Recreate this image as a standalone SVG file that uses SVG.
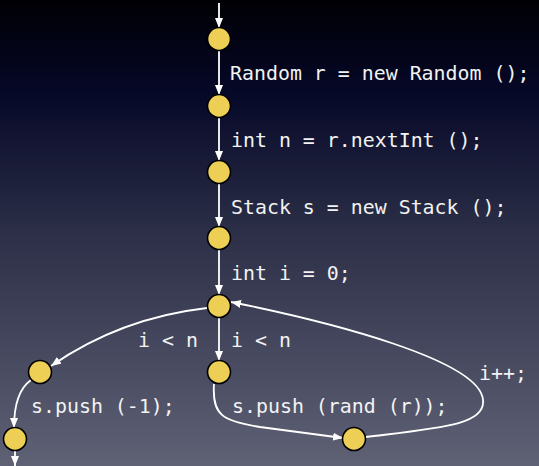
<svg xmlns="http://www.w3.org/2000/svg" width="539" height="466" viewBox="0 0 539 466">
<defs>
<linearGradient id="bg" x1="0" y1="0" x2="0" y2="1">
<stop offset="0" stop-color="#000004"/>
<stop offset="0.2" stop-color="#060828"/>
<stop offset="0.5" stop-color="#2c2f47"/>
<stop offset="1" stop-color="#5f6175"/>
</linearGradient>
<marker id="ah" markerUnits="userSpaceOnUse" markerWidth="10" markerHeight="8" refX="10" refY="4" orient="auto">
<path d="M0,0 L10,4 L0,8 z" fill="#ffffff"/>
</marker>
<style>
.n{fill:#edcf55;stroke:#000;stroke-width:1.6}
.e{fill:none;stroke:#fff;stroke-width:1.8;marker-end:url(#ah)}
.t{font-family:"DejaVu Sans Mono","Liberation Mono",monospace;font-size:19.9px;fill:#f2f2f2}
</style>
</defs>
<rect width="539" height="466" fill="url(#bg)"/>
<g id="connectors">
<path class="e" d="M219,3 L219,28"/>
<path class="e" d="M219,50 L219,95"/>
<path class="e" d="M219,117 L219,161"/>
<path class="e" d="M219,183 L219,227"/>
<path class="e" d="M219,249 L219,295"/>
<path class="e" d="M219,317 L219,361"/>
<path class="e" d="M207,308 Q120,318 51,366"/>
<path class="e" d="M31,380 Q14,392 14,428"/>
<path class="e" d="M15,450 L15,466"/>
<path class="e" d="M214,384 C212,415 222,421 260,427 L343,438"/>
<path class="e" d="M366,437 C440,428 486,425 483,400 C480,360 330,322 231,302"/>
</g>
<g id="node1"><circle class="n" cx="219" cy="39" r="11.5"/></g>
<g id="node2"><circle class="n" cx="219" cy="106" r="11.5"/></g>
<g id="node3"><circle class="n" cx="219" cy="172" r="11.5"/></g>
<g id="node4"><circle class="n" cx="219" cy="238" r="11.5"/></g>
<g id="node5"><circle class="n" cx="219" cy="306" r="11.5"/></g>
<g id="node6"><circle class="n" cx="40" cy="372" r="11.5"/></g>
<g id="node7"><circle class="n" cx="15" cy="439" r="11.5"/></g>
<g id="node8"><circle class="n" cx="219" cy="372" r="11.5"/></g>
<g id="node9"><circle class="n" cx="354" cy="439" r="11.5"/></g>
<g id="labels">
<text class="t" x="230" y="80">Random r = new Random ();</text>
<text class="t" x="231" y="147">int n = r.nextInt ();</text>
<text class="t" x="231" y="214">Stack s = new Stack ();</text>
<text class="t" x="231" y="280">int i = 0;</text>
<text class="t" x="138" y="347">i &lt; n</text>
<text class="t" x="231" y="347">i &lt; n</text>
<text class="t" x="31" y="413">s.push (-1);</text>
<text class="t" x="232" y="413">s.push (rand (r));</text>
<text class="t" x="479" y="380">i++;</text>
</g>
</svg>
